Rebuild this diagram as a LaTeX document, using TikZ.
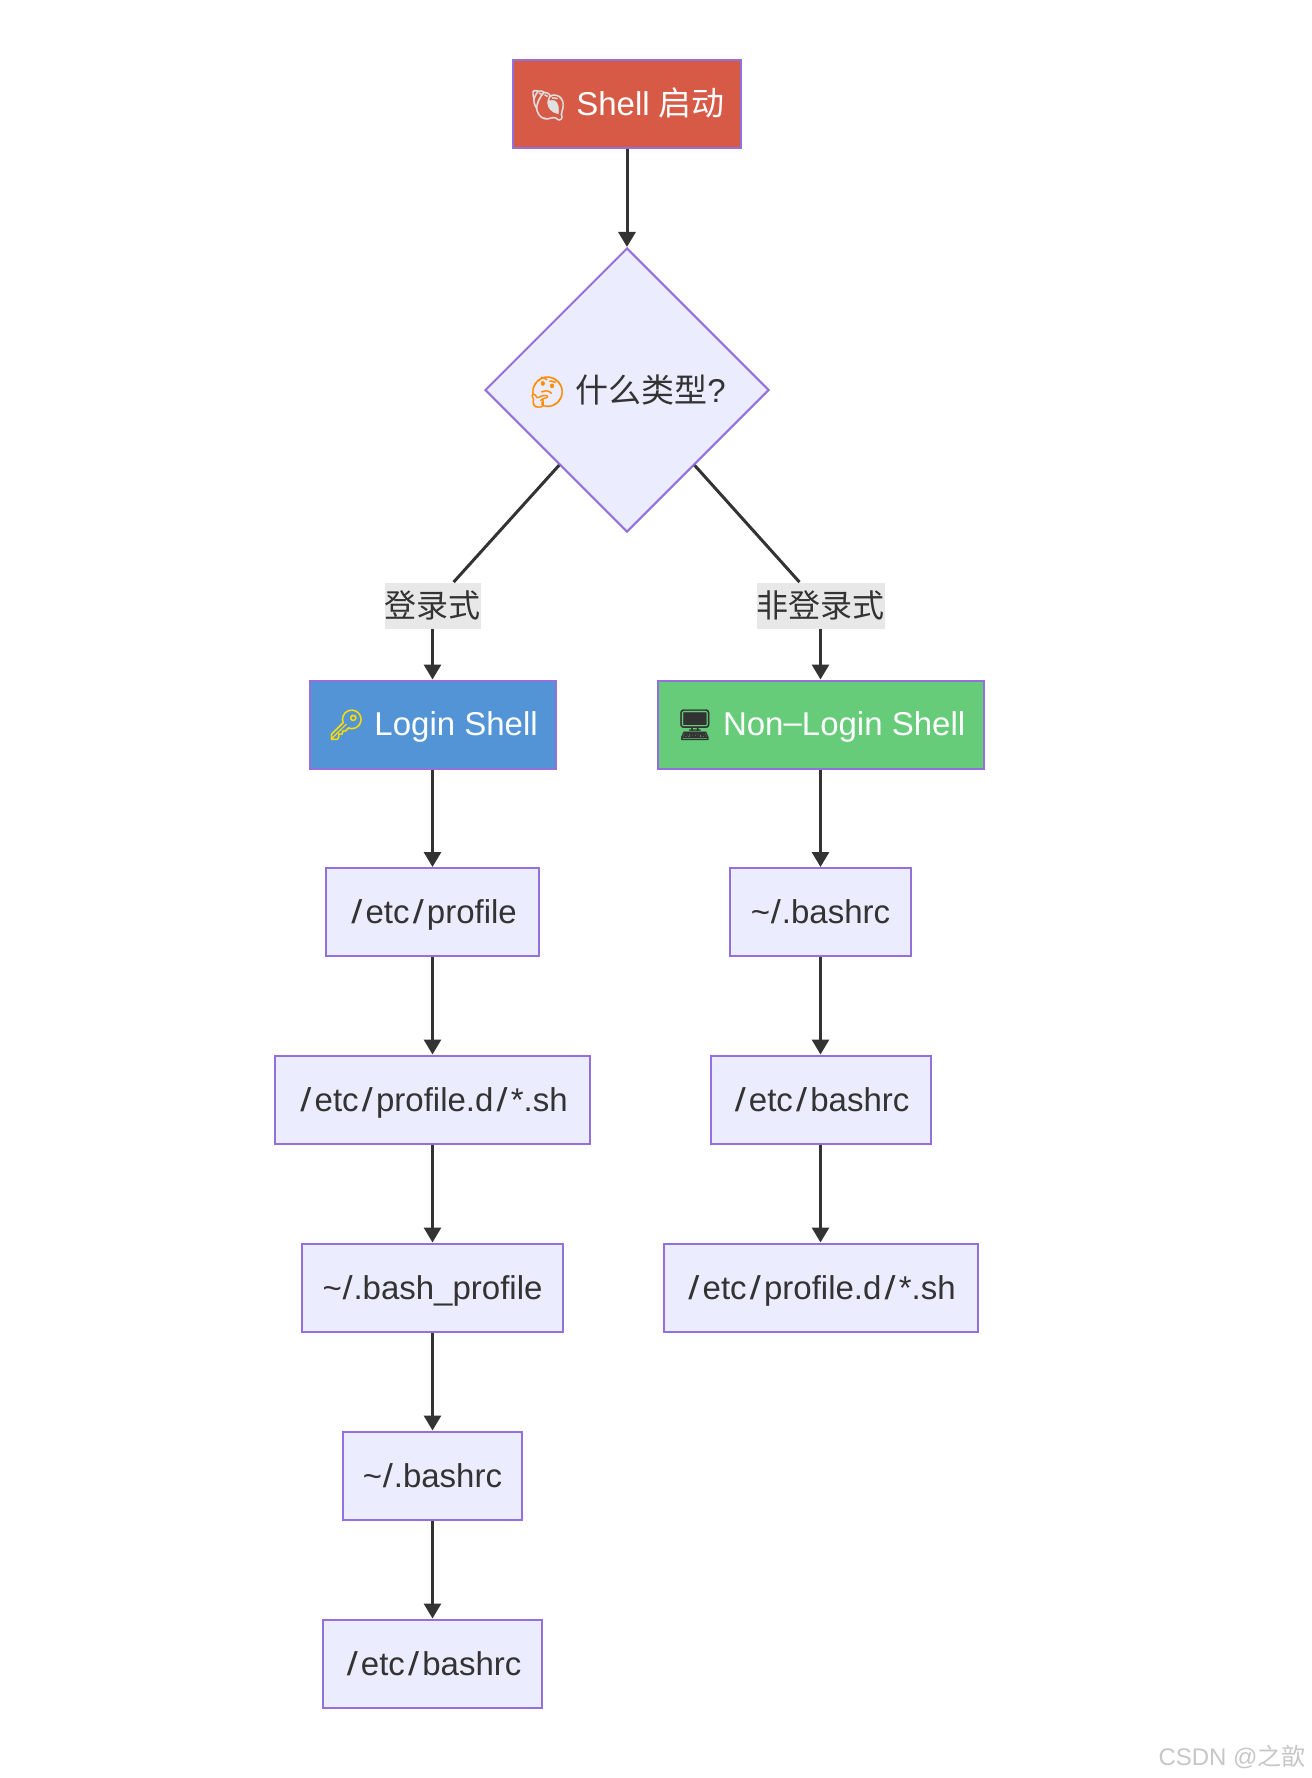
\documentclass[tikz,border=0pt]{standalone}
\usepackage{fontspec}
\usepackage{xcolor}
\usetikzlibrary{arrows.meta,shapes.geometric}
\setmainfont{Liberation Sans}
\newfontfamily\cjk{Noto Sans CJK SC}
\newfontfamily\emojifont[FakeBold=1]{Noto Emoji}
\definecolor{flowborder}{HTML}{9370DB}
\definecolor{flowfill}{HTML}{ECECFF}
\definecolor{flowtext}{HTML}{333333}
\definecolor{startfill}{HTML}{D65A46}
\definecolor{loginfill}{HTML}{5294D6}
\definecolor{nonloginfill}{HTML}{66CC7A}
\definecolor{labelfill}{HTML}{E8E8E8}
\newcommand{\emo}[2]{{\emojifont\fontsize{15}{20}\selectfont\color{#1}\char"#2}}
\newcommand{\pathsep}{\kern1.6pt\scalebox{1.2}[1]{/}\kern1.6pt}
\newcommand{\homesep}{\kern0.4pt\scalebox{1.1}[1]{/}\kern0.4pt}
\tikzset{
  filebox/.style={
    rectangle,draw=flowborder,fill=flowfill,line width=1pt,text=flowtext,
    inner sep=0pt,minimum height=44pt,text height=14.5pt,text depth=3pt,
    font=\fontsize{16.5}{20}\selectfont,
  },
  startbox/.style={filebox,fill=startfill,text=white,text height=15pt},
  loginbox/.style={filebox,fill=loginfill,text=white,text height=13.5pt},
  nonloginbox/.style={filebox,fill=nonloginfill,text=white,text height=13.5pt},
  typebox/.style={
    diamond,aspect=1,draw=flowborder,fill=flowfill,line width=1pt,text=flowtext,
    inner sep=0pt,minimum width=142pt,minimum height=142pt,text height=15pt,text depth=3pt,
    font=\fontsize{16.5}{20}\selectfont,
  },
  edgelabel/.style={
    rectangle,fill=labelfill,text=flowtext,inner sep=0pt,
    minimum height=23pt,font=\cjk\fontsize{16}{20}\selectfont,
  }
}
\begin{document}
\begin{tikzpicture}[x=0.5pt,y=-0.5pt]
    \useasboundingbox (0,0) rectangle (1312,1778);
    \begin{scope}[>={Triangle[length=7.5pt,width=8.5pt]}, every edge/.style={draw=flowtext,line width=1.5pt}]
        \node[startbox,minimum width=114pt] (start) at (627,103.5) {\emo{black!12}{1F41A} Shell {\cjk 启动}};
        \node[typebox] (shelltype) at (627,390) {\emo{orange!90!yellow}{1F914} {\cjk 什么类型}?};
        \node[edgelabel] (loginlabel) at (432.5,605.5) {登录式};
        \node[edgelabel] (nonloginlabel) at (820.5,605.5) {非登录式};
        \node[loginbox,minimum width=123pt] (login) at (432.5,724.5) {\emo{yellow!80!orange}{1F511} Login Shell};
        \node[nonloginbox,minimum width=163pt] (nonlogin) at (820.5,724.5) {\emo{black!80}{1F5A5} Non{\raisebox{0.1ex}{--}}Login Shell};

        \node[filebox,minimum width=106.5pt] (profile) at (432.5,912) {\pathsep etc\pathsep profile};
        \node[filebox,minimum width=157.5pt] (profiled) at (432.5,1099.5) {\pathsep etc\pathsep profile.d\pathsep *.sh};
        \node[filebox,minimum width=130.5pt] (bashprofile) at (432.5,1287.5) {\char"007E\homesep.bash\_profile};
        \node[filebox,minimum width=89.5pt] (bashrc) at (432.5,1475.5) {\char"007E\homesep.bashrc};
        \node[filebox,minimum width=109.5pt] (etcbashrc) at (432.5,1663.5) {\pathsep etc\pathsep bashrc};

        \node[filebox,minimum width=90.5pt] (userbashrc) at (820.5,912) {\char"007E\homesep.bashrc};
        \node[filebox,minimum width=110pt] (sysbashrc) at (820.5,1099.5) {\pathsep etc\pathsep bashrc};
        \node[filebox,minimum width=157pt] (sysprofiled) at (820.5,1287.5) {\pathsep etc\pathsep profile.d\pathsep *.sh};

        \node[text=black!22,anchor=south east,inner sep=0pt,font=\fontsize{12}{15}\selectfont] (mark) at (1306,1769) {CSDN @{\cjk 之歆}};

        \path [->] (start) edge (shelltype);
        \path (shelltype) edge (loginlabel);
        \path (shelltype) edge (nonloginlabel);
        \path [->] (loginlabel) edge (login);
        \path [->] (nonloginlabel) edge (nonlogin);
        \path [->] (login) edge (profile);
        \path [->] (profile) edge (profiled);
        \path [->] (profiled) edge (bashprofile);
        \path [->] (bashprofile) edge (bashrc);
        \path [->] (bashrc) edge (etcbashrc);
        \path [->] (nonlogin) edge (userbashrc);
        \path [->] (userbashrc) edge (sysbashrc);
        \path [->] (sysbashrc) edge (sysprofiled);
    \end{scope}
\end{tikzpicture}
\end{document}
